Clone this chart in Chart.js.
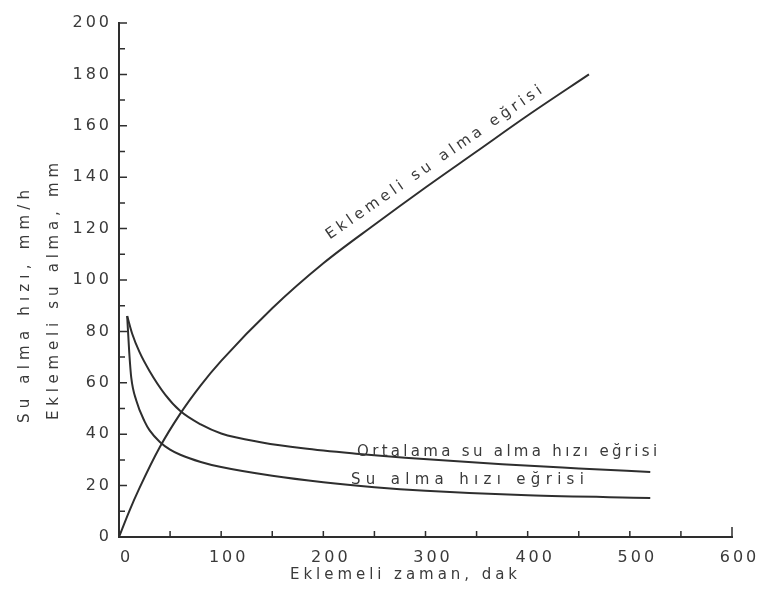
<!DOCTYPE html>
<html>
<head>
<meta charset="utf-8">
<script src="https://cdn.jsdelivr.net/npm/chart.js@4.4.1/dist/chart.umd.min.js"></script>
<style>
  html, body { margin: 0; padding: 0; background: #ffffff; }
  canvas { display: block; }
</style>
</head>
<body>
<canvas id="chart" width="766" height="596"></canvas>
<script>
// Eklemeli su alma eğrisi (cumulative intake, mm) vs time (min)
const cumTime = [0, 10, 20, 40, 60, 80, 100, 150, 200, 250, 300, 350, 400, 460];
const cumIntake = [0, 10, 19, 35, 48, 59, 68.5, 89, 106.5, 121.5, 136, 150, 164, 180];

// Su alma hızı eğrisi (intake rate, mm/h)
const rateTime = [8, 10, 12, 17, 25, 30, 40, 50, 60, 80, 100, 150, 200, 250, 300, 400, 520];
const rateValues = [86, 72, 62, 53, 45, 41.5, 37, 34, 32, 29.2, 27.2, 23.8, 21.3, 19.4, 18, 16.2, 15.2];

// Ortalama su alma hızı eğrisi (average intake rate, mm/h)
const avgTime = [8, 13, 20, 30, 45, 60, 80, 100, 140, 180, 235, 280, 375, 450, 520];
const avgValues = [86, 79, 72, 64.5, 55.5, 49, 43.8, 40.3, 36.8, 34.5, 32.3, 30.8, 28.3, 26.7, 25.3];

// axis ticks
const xTickValues = [0, 100, 200, 300, 400, 500, 600];
const yTickValues = [0, 20, 40, 60, 80, 100, 120, 140, 160, 180, 200];

const INK = '#2e2e2e';
const TEXT = '#3a3a3a';
const FONT = '"DejaVu Sans", sans-serif';

function toPoints(xs, ys) {
    return xs.map((x, i) => ({ x: x, y: ys[i] }));
}

// draw text stretched to a given width by letter spacing
function spacedText(ctx, text, x, y, width) {
    ctx.letterSpacing = '0px';
    const w0 = ctx.measureText(text).width;
    const n = [...text].length;
    const ls = n > 1 ? (width - w0) / (n - 1) : 0;
    ctx.letterSpacing = ls + 'px';
    ctx.textAlign = 'left';
    ctx.fillText(text, x, y);
    ctx.letterSpacing = '0px';
}

function spacedWidth(ctx, text, ls) {
    ctx.letterSpacing = '0px';
    return ctx.measureText(text).width + ls * ([...text].length - 1);
}

const axisDecor = {
    id: 'axisDecor',
    afterDraw(chart) {
        const { ctx, scales: { x, y } } = chart;
        ctx.save();

        // inward tick marks
        ctx.strokeStyle = INK;
        ctx.lineWidth = 1.5;
        ctx.beginPath();
        for (let v = 10; v <= 200; v += 10) {
            const py = y.getPixelForValue(v);
            const len = v % 20 === 0 ? 8 : 6;
            ctx.moveTo(x.left, py);
            ctx.lineTo(x.left + len, py);
        }
        for (let v = 50; v <= 600; v += 50) {
            const px = x.getPixelForValue(v);
            const len = v === 600 ? 10 : 6;
            ctx.moveTo(px, y.bottom);
            ctx.lineTo(px, y.bottom - len);
        }
        ctx.stroke();

        // tick labels
        ctx.fillStyle = TEXT;
        ctx.font = '16px ' + FONT;
        ctx.textBaseline = 'middle';
        const ls = 3;
        yTickValues.forEach(v => {
            const t = String(v);
            const w = spacedWidth(ctx, t, ls);
            ctx.letterSpacing = ls + 'px';
            ctx.textAlign = 'left';
            ctx.fillText(t, x.left - 10 - w, y.getPixelForValue(v));
        });
        xTickValues.forEach(v => {
            const t = String(v);
            const w = spacedWidth(ctx, t, ls);
            ctx.letterSpacing = ls + 'px';
            ctx.textAlign = 'left';
            ctx.fillText(t, x.getPixelForValue(v) + 6 - w / 2, y.bottom + 21);
        });
        ctx.letterSpacing = '0px';

        // axis titles
        ctx.font = '15px ' + FONT;
        ctx.save();
        ctx.translate(25, 423);
        ctx.rotate(-Math.PI / 2);
        spacedText(ctx, 'Su alma hızı, mm/h', 0, 0, 233);
        ctx.restore();
        ctx.save();
        ctx.translate(54, 420);
        ctx.rotate(-Math.PI / 2);
        spacedText(ctx, 'Eklemeli su alma, mm', 0, 0, 257);
        ctx.restore();
        spacedText(ctx, 'Eklemeli zaman, dak', 290, y.bottom + 38, 227);

        // curve labels
        spacedText(ctx, 'Ortalama su alma hızı eğrisi',
            x.getPixelForValue(233), y.getPixelForValue(33), 300);
        spacedText(ctx, 'Su alma hızı eğrisi',
            x.getPixelForValue(227), y.getPixelForValue(22.2), 233);
        ctx.save();
        ctx.translate(x.getPixelForValue(308), y.getPixelForValue(145.5));
        ctx.rotate(-34.6 * Math.PI / 180);
        spacedText(ctx, 'Eklemeli su alma eğrisi', -129, 0, 259);
        ctx.restore();

        ctx.restore();
    }
};

const lineStyle = {
    borderColor: INK,
    borderWidth: 2,
    pointRadius: 0,
    fill: false,
    cubicInterpolationMode: 'monotone'
};

new Chart(document.getElementById('chart').getContext('2d'), {
    type: 'line',
    data: {
        datasets: [
            { label: 'Eklemeli su alma eğrisi', data: toPoints(cumTime, cumIntake), ...lineStyle },
            { label: 'Su alma hızı eğrisi', data: toPoints(rateTime, rateValues), ...lineStyle },
            { label: 'Ortalama su alma hızı eğrisi', data: toPoints(avgTime, avgValues), ...lineStyle }
        ]
    },
    options: {
        responsive: false,
        animation: false,
        layout: { padding: { left: 119, right: 34, top: 23, bottom: 59 } },
        plugins: {
            legend: { display: false },
            tooltip: { enabled: false }
        },
        scales: {
            x: {
                type: 'linear',
                min: 0,
                max: 600,
                ticks: { display: false, stepSize: 50 },
                grid: { display: false, drawTicks: false },
                border: { display: true, color: INK, width: 2 },
                afterFit: (scale) => { scale.height = 0; }
            },
            y: {
                min: 0,
                max: 200,
                ticks: { display: false, stepSize: 10 },
                grid: { display: false, drawTicks: false },
                border: { display: true, color: INK, width: 2 },
                afterFit: (scale) => { scale.width = 0; }
            }
        }
    },
    plugins: [axisDecor]
});
</script>
</body>
</html>
